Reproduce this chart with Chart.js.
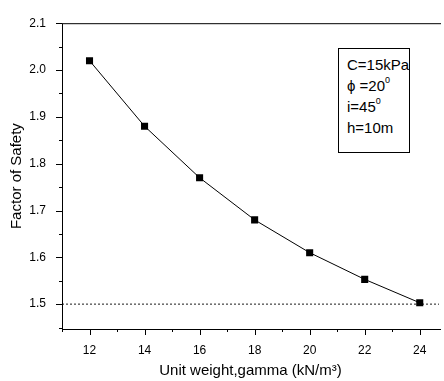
<!DOCTYPE html>
<html><head><meta charset="utf-8">
<script src="https://cdn.jsdelivr.net/npm/chart.js@4.4.0/dist/chart.umd.min.js"></script>
<style>
html,body{margin:0;padding:0;background:#fff;overflow:hidden}
#wrap{position:relative;width:444px;height:381px}
#note{position:absolute;left:338px;top:48px;width:72px;height:105px;border:1px solid #000;box-sizing:border-box;font-family:"Liberation Sans",Arial,sans-serif;font-size:15px;line-height:21px;padding:5px 0 0 8px;color:#000;background:#fff}
#note sup{font-size:9px;vertical-align:top;line-height:9px;position:relative;top:1px}
</style></head><body>
<div id="wrap"><canvas id="c"></canvas>
<div id="note">C=15kPa<br>&#981; =20<sup>0</sup><br>i=45<sup>0</sup><br>h=10m</div></div>
<script>
const unitWeight = [12, 14, 16, 18, 20, 22, 24];
const factorOfSafety = [2.02, 1.88, 1.77, 1.68, 1.61, 1.553, 1.503];
const referenceLevel = 1.5;
const xTickLabels = [12, 14, 16, 18, 20, 22, 24];
const xMinorTicks = [11, 13, 15, 17, 19, 21, 23];
const yTickLabels = [1.5, 1.6, 1.7, 1.8, 1.9, 2.0, 2.1];
const yMinorTicks = [1.45, 1.55, 1.65, 1.75, 1.85, 1.95, 2.05];

const FONT = "'Liberation Sans', Arial, sans-serif";
const isIn = (arr, v) => arr.some(a => Math.abs(a - v) < 1e-6);

const frameTicks = {
  id: 'frameTicks',
  afterDraw(chart) {
    const {ctx, chartArea: a, scales: {x, y}} = chart;
    ctx.save();
    ctx.strokeStyle = '#000';
    ctx.lineWidth = 1;
    ctx.beginPath();
    ctx.moveTo(a.left + 0.5, a.top + 0.5);
    ctx.lineTo(a.right + 2, a.top + 0.5);
    ctx.moveTo(a.left + 0.5, a.top);
    ctx.lineTo(a.left + 0.5, a.bottom + 0.5);
    ctx.lineTo(a.right + 2, a.bottom + 0.5);
    xTickLabels.forEach(v => { const px = Math.round(x.getPixelForValue(v)) + 0.5; ctx.moveTo(px, a.bottom); ctx.lineTo(px, a.bottom + 6); });
    xMinorTicks.forEach(v => { const px = Math.round(x.getPixelForValue(v)) + 0.5; ctx.moveTo(px, a.bottom); ctx.lineTo(px, a.bottom + 3); });
    yTickLabels.forEach(v => { const py = Math.round(y.getPixelForValue(v)) + 0.5; ctx.moveTo(a.left, py); ctx.lineTo(a.left - 6, py); });
    yMinorTicks.forEach(v => { const py = Math.round(y.getPixelForValue(v)) + 0.5; ctx.moveTo(a.left, py); ctx.lineTo(a.left - 3, py); });
    ctx.stroke();
    ctx.restore();
  }
};

new Chart(document.getElementById('c'), {
  type: 'line',
  data: {
    datasets: [
      {
        data: unitWeight.map((x, i) => ({x: x, y: factorOfSafety[i]})),
        borderColor: '#000', borderWidth: 1, tension: 0,
        pointStyle: 'rect', pointRadius: 5, pointBackgroundColor: '#000', pointBorderColor: '#000', pointBorderWidth: 0
      },
      {
        data: [{x: 11, y: referenceLevel}, {x: 24.7, y: referenceLevel}],
        borderColor: '#666', borderWidth: 1.5, borderDash: [2, 2], pointRadius: 0
      }
    ]
  },
  options: {
    responsive: true, maintainAspectRatio: false, animation: false,
    layout: {padding: {top: 15, left: 0, right: 0, bottom: 0}},
    plugins: {legend: {display: false}, tooltip: {enabled: false}},
    scales: {
      x: {
        type: 'linear', min: 11, max: 24.7,
        afterBuildTicks: s => { s.ticks = xTickLabels.concat(xMinorTicks).sort((a, b) => a - b).map(v => ({value: v})); },
        afterFit: s => { s.height = 52; },
        grid: {display: false, drawTicks: false},
        border: {display: false},
        ticks: {autoSkip: false, maxRotation: 0, padding: 14, color: '#000', font: {family: FONT, size: 12},
          callback: v => isIn(xTickLabels, v) ? String(v) : ''},
        title: {display: true, text: 'Unit weight,gamma (kN/m\u00B3)', color: '#000', font: {family: FONT, size: 15}, padding: {top: 0, bottom: 1}}
      },
      y: {
        type: 'linear', min: 1.447, max: 2.1,
        afterBuildTicks: s => { s.ticks = yTickLabels.concat(yMinorTicks).sort((a, b) => a - b).map(v => ({value: v})); },
        afterFit: s => { s.width = 62; },
        grid: {display: false, drawTicks: false},
        border: {display: false},
        ticks: {autoSkip: false, padding: 16, color: '#000', font: {family: FONT, size: 12},
          callback: v => isIn(yTickLabels, v) ? v.toFixed(1) : ''},
        title: {display: true, text: 'Factor of Safety', color: '#000', font: {family: FONT, size: 15}, padding: {top: 8, bottom: 0}}
      }
    }
  },
  plugins: [frameTicks]
});
</script>
</body></html>
